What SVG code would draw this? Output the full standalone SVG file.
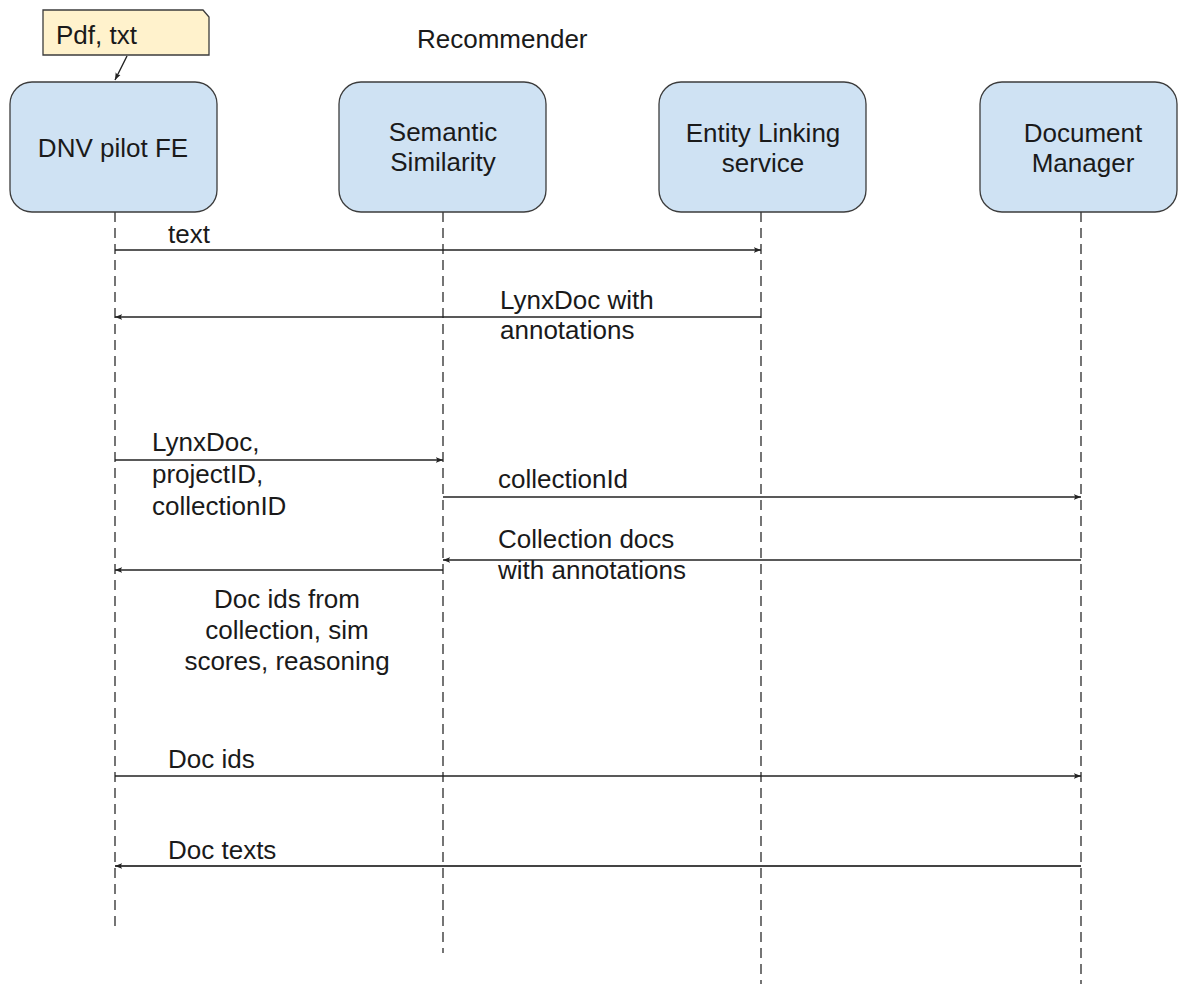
<svg xmlns="http://www.w3.org/2000/svg" width="1178" height="984" viewBox="0 0 1178 984">
  <style>
    .t { font-family: "Liberation Sans", Arial, sans-serif; font-size: 26px; fill: #1a1a1a; }
    .c { text-anchor: middle; }
    .box { fill: #cfe2f3; stroke: #3c3c3c; stroke-width: 1.3; }
    .life { stroke: #2b2b2b; stroke-width: 1.3; stroke-dasharray: 10 6; fill: none; }
    .msg { stroke: #222; stroke-width: 1.4; fill: none; marker-end: url(#ah); }
  </style>
  <defs>
    <marker id="ah" viewBox="0 0 10 8" refX="9" refY="4" markerWidth="8" markerHeight="6.4" markerUnits="userSpaceOnUse" orient="auto">
      <path d="M0,0.5 L9,4 L0,7.5 L2,4 z" fill="#222"/>
    </marker>
  </defs>
  <rect width="1178" height="984" fill="#ffffff"/>

  <text class="t" x="417" y="48">Recommender</text>

  <g id="lifelines">
    <line class="life" x1="115" y1="212" x2="115" y2="927"/>
    <line class="life" x1="443" y1="212" x2="443" y2="953"/>
    <line class="life" x1="761" y1="212" x2="761" y2="984"/>
    <line class="life" x1="1081" y1="212" x2="1081" y2="984"/>
  </g>

  <g id="note-pdf">
    <path d="M43,10 H203 L209,17 V55 H43 Z" fill="#fff2cc" stroke="#3c3c3c" stroke-width="1.3"/>
    <text class="t" x="56" y="44">Pdf, txt</text>
  </g>

  <g id="node-dnv">
    <rect class="box" x="10" y="82" width="207" height="130" rx="22"/>
    <text class="t c" x="113" y="157">DNV pilot FE</text>
  </g>
  <g id="node-semantic">
    <rect class="box" x="339" y="82" width="207" height="130" rx="22"/>
    <text class="t c" x="443" y="141">Semantic</text>
    <text class="t c" x="443" y="171">Similarity</text>
  </g>
  <g id="node-entity">
    <rect class="box" x="659" y="82" width="207" height="130" rx="22"/>
    <text class="t c" x="763" y="142">Entity Linking</text>
    <text class="t c" x="763" y="172">service</text>
  </g>
  <g id="node-docmgr">
    <rect class="box" x="980" y="82" width="197" height="130" rx="22"/>
    <text class="t c" x="1083" y="142">Document</text>
    <text class="t c" x="1083" y="172">Manager</text>
  </g>

  <g id="connectors">
    <line class="msg" x1="127" y1="56" x2="115" y2="80"/>
    <line class="msg" x1="115" y1="250" x2="761" y2="250"/>
    <line class="msg" x1="761" y1="317" x2="115" y2="317"/>
    <line class="msg" x1="115" y1="460" x2="443" y2="460"/>
    <line class="msg" x1="443" y1="497" x2="1081" y2="497"/>
    <line class="msg" x1="1081" y1="560" x2="443" y2="560"/>
    <line class="msg" x1="443" y1="570" x2="115" y2="570"/>
    <line class="msg" x1="115" y1="776" x2="1081" y2="776"/>
    <line class="msg" x1="1081" y1="866" x2="115" y2="866" style="stroke:#444;stroke-width:2"/>
  </g>

  <g id="labels">
    <text class="t" x="168" y="243">text</text>
    <text class="t" x="500" y="309">LynxDoc with</text>
    <text class="t" x="500" y="339">annotations</text>
    <text class="t" x="152" y="451">LynxDoc,</text>
    <text class="t" x="152" y="483">projectID,</text>
    <text class="t" x="152" y="515">collectionID</text>
    <text class="t" x="498" y="488">collectionId</text>
    <text class="t" x="498" y="548">Collection docs</text>
    <text class="t" x="498" y="579">with annotations</text>
    <text class="t c" x="287" y="608">Doc ids from</text>
    <text class="t c" x="287" y="639">collection, sim</text>
    <text class="t c" x="287" y="670">scores, reasoning</text>
    <text class="t" x="168" y="768">Doc ids</text>
    <text class="t" x="168" y="859">Doc texts</text>
  </g>
</svg>
